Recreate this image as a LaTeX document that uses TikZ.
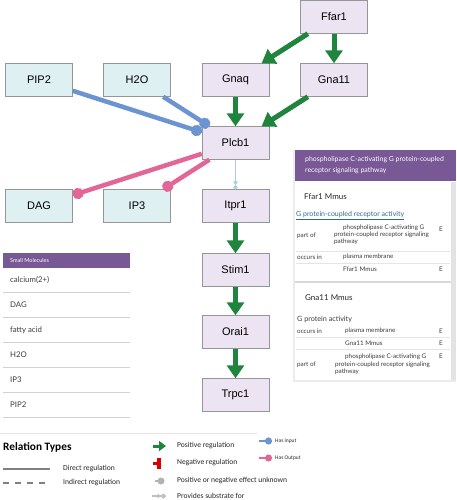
\documentclass[tikz,border=0pt]{standalone}
\usepackage{fontspec}
\setmainfont{Liberation Sans}
\newfontfamily\uifont{Lato}
\newfontfamily\legfont{Carlito}
\usetikzlibrary{arrows.meta}

\definecolor{posgreen}{RGB}{31,133,62}
\definecolor{inblue}{RGB}{108,148,208}
\definecolor{outpink}{RGB}{226,102,150}
\definecolor{subblue}{RGB}{166,208,228}
\definecolor{protfill}{RGB}{236,228,242}
\definecolor{molfill}{RGB}{222,240,242}
\definecolor{boxline}{RGB}{150,150,150}
\definecolor{headpurple}{RGB}{121,88,150}
\definecolor{linkblue}{RGB}{45,105,145}
\definecolor{txtgray}{RGB}{60,60,60}

\begin{document}
\begin{tikzpicture}[
  x=1pt, y=-1pt,
  prot/.style={draw=boxline, fill=protfill, minimum width=67pt,
    minimum height=33pt, inner sep=0pt, font=\fontsize{11}{13}\selectfont},
  mol/.style={prot, fill=molfill},
  posreg/.style={draw=posgreen, line width=5pt,
    -{Triangle[length=13pt,width=17pt]}},
  hasin/.style={draw=inblue, line width=4.5pt, -{Circle[length=11pt]}},
  hasout/.style={draw=outpink, line width=4.5pt, -{Circle[length=11pt]}},
  subst/.style={draw=subblue, line width=1.5pt,
    -{Triangle[length=4pt,width=5pt] Circle[length=4pt]}},
  cell/.style={anchor=west, inner sep=0pt, text=txtgray,
    font=\uifont\fontsize{6.3}{7}\selectfont},
  gene/.style={anchor=west, inner sep=0pt, text=black!85,
    font=\uifont\fontsize{8}{9}\selectfont},
  leg/.style={anchor=west, inner sep=0pt, text=black!85,
    font=\legfont\fontsize{7.6}{8}\selectfont}
]
\useasboundingbox (0,0) rectangle (456,500);

% ============================================================
% Pathway nodes
% ============================================================
\node[prot] (ffar)  at (334,17)    {Ffar1};
\node[prot] (gnaq)  at (235.5,80)  {Gnaq};
\node[prot] (gna11) at (334,80)    {Gna11};
\node[mol]  (pip2)  at (39,80)     {PIP2};
\node[mol]  (h2o)   at (137,80)    {H2O};
\node[prot] (plcb)  at (235.5,143) {Plcb1};
\node[mol]  (dag)   at (39,206)    {DAG};
\node[mol]  (ip3)   at (137,206)   {IP3};
\node[prot] (itpr)  at (235.5,206) {Itpr1};
\node[prot] (stim)  at (235.5,270) {Stim1};
\node[prot] (orai)  at (235.5,332) {Orai1};
\node[prot] (trpc)  at (235.5,395) {Trpc1};

% ============================================================
% Regulation edges
% ============================================================
\draw[posreg] (ffar) -- (gnaq);
\draw[posreg] (ffar) -- (gna11);
\draw[posreg] (gnaq) -- (plcb);
\draw[posreg] (gna11) -- (plcb);
\draw[hasin] (pip2) -- (plcb);
\draw[hasin] (h2o) -- (plcb);
\draw[hasout] (plcb) -- (dag);
\draw[hasout] (plcb) -- (ip3);
\draw[subst] (plcb) -- (itpr);
\draw[posreg] (itpr) -- (stim);
\draw[posreg] (stim) -- (orai);
\draw[posreg] (orai) -- (trpc);

% ============================================================
% Small molecules list
% ============================================================
\fill[headpurple] (3,253) rectangle (130,268);
\node[anchor=west, inner sep=0pt, text=white,
  font=\uifont\fontsize{5.5}{6}\selectfont] (smhead) at (10,260.5) {Small Molecules};
\foreach \t [count=\i] in {calcium(2+),DAG,fatty acid,H2O,IP3,PIP2} {
  \node[cell, font=\uifont\fontsize{7.8}{8}\selectfont] (sm\i) at (10,255+25*\i) {\t};
  \draw[gray!35, line width=0.8pt] (3,267+25*\i) -- (130,267+25*\i);
}

% ============================================================
% Annotation card
% ============================================================
\fill[gray!15] (293,150) rectangle (456,382);
\fill[white] (295,150) rectangle (456,380);
\fill[gray!22] (451,182) rectangle (456,380);
\fill[headpurple] (295,150) rectangle (456,181);
\node[anchor=north west, inner sep=0pt, align=left, text=white,
  font=\uifont\fontsize{6.9}{11}\selectfont] (cardhead) at (305,156)
  {phospholipase C-activating G protein-coupled\\receptor signaling pathway};

% Ffar1 section
\node[gene] (ffarname) at (304,197) {Ffar1 Mmus};
\node[cell, text=linkblue, font=\uifont\fontsize{7}{8}\selectfont] (ffarterm)
  at (296,216) {\underline{G protein-coupled receptor activity}};
\node[cell] (fpart) at (297,236) {part of};
\node[cell, anchor=north west, align=left, font=\uifont\fontsize{6.3}{7.3}\selectfont]
  (fpath) at (334,224.5) {\hspace*{9pt}phospholipase C-activating G\\protein-coupled receptor signaling\\pathway};
\node[cell] (fe1) at (439,229) {E};
\node[cell] (focc) at (297,257) {occurs in};
\node[cell] (fmem) at (343,257) {plasma membrane};
\node[cell] (fgene) at (343,269) {Ffar1 Mmus};
\node[cell] (fe2) at (439,269) {E};
\foreach \y in {251,263} {
  \draw[gray!20, line width=0.5pt] (296,\y) -- (450,\y);
}
\draw[gray!30, line width=1.5pt] (295,282) -- (451,282);

% Gna11 section
\node[gene] (gnaname) at (305,298) {Gna11 Mmus};
\node[cell, font=\uifont\fontsize{7.2}{8}\selectfont] (gnaterm) at (297,319) {G protein activity};
\node[cell] (gocc) at (297,331) {occurs in};
\node[cell] (gmem) at (345,331) {plasma membrane};
\node[cell] (ge1) at (439,331) {E};
\node[cell] (ggene) at (345,343) {Gna11 Mmus};
\node[cell] (ge2) at (439,343) {E};
\node[cell] (gpart) at (297,365) {part of};
\node[cell, anchor=north west, align=left, font=\uifont\fontsize{6.3}{7.8}\selectfont]
  (gpath) at (335,353.5) {\hspace*{10pt}phospholipase C-activating G\\protein-coupled receptor signaling\\pathway};
\node[cell] (ge3) at (439,356) {E};
\foreach \y in {337,349} {
  \draw[gray!20, line width=0.5pt] (296,\y) -- (450,\y);
}

% ============================================================
% Legend
% ============================================================
\draw[gray!20, line width=0.8pt] (0,433) -- (257,433);
\node[anchor=west, inner sep=0pt, font=\legfont\bfseries\fontsize{11.3}{12}\selectfont]
  (reltypes) at (3,447) {Relation Types};

\draw[gray, line width=1.3pt] (3,469) -- (50,469);
\node[leg] (ldirect) at (63,469) {Direct regulation};
\draw[gray, line width=1.3pt, dash pattern=on 6pt off 6pt] (3,483) -- (50,483);
\node[leg] (lindirect) at (63,483) {Indirect regulation};

\draw[posgreen, line width=3pt, -{Triangle[length=7pt,width=10pt]}] (153,446) -- (166,446);
\node[leg] (lpos) at (177,446) {Positive regulation};
\draw[red!85!black, line width=2.5pt] (153,463.5) -- (157,463.5);
\fill[red!85!black] (157,458) rectangle (161,469);
\node[leg] (lneg) at (177,463) {Negative regulation};
\draw[gray!60, line width=2pt] (155,481) -- (158,481);
\fill[gray!60] (161,481) circle (3.5pt);
\node[leg] (lunk) at (177,481) {Positive or negative effect unknown};
\draw[gray!50, line width=1.2pt, -{Triangle[length=3.5pt,width=4.5pt] Circle[length=5pt]}]
  (152,496) -- (166,496);
\node[leg] (lsub) at (177,496) {Provides substrate for};

\draw[inblue, line width=2pt, -{Circle[length=7pt]}] (259,441) -- (272,441);
\node[leg, font=\legfont\fontsize{5.5}{6}\selectfont] (lin) at (275,441) {Has input};
\draw[outpink, line width=2pt, -{Circle[length=7pt]}] (259,458) -- (272,458);
\node[leg, font=\legfont\fontsize{5.5}{6}\selectfont] (lout) at (275,458) {Has Output};

\end{tikzpicture}
\end{document}
